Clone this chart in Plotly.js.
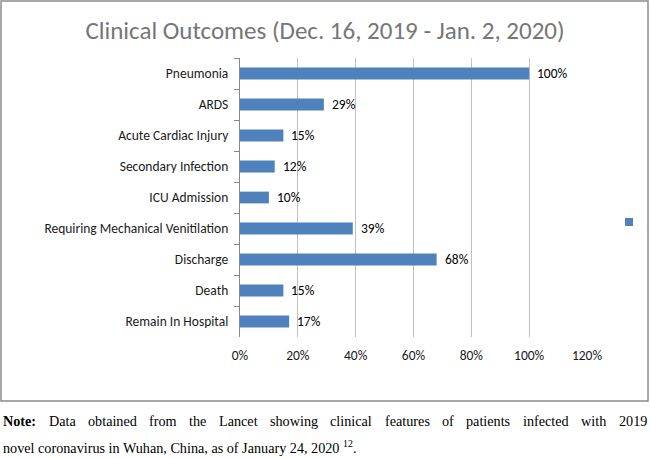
<!DOCTYPE html>
<html>
<head>
<meta charset="utf-8">
<script src="https://cdn.plot.ly/plotly-3.0.1.min.js"></script>
<style>
  html, body { margin: 0; padding: 0; background: #ffffff; }
  #chart { width: 650px; height: 458px; }
</style>
</head>
<body>
<div id="chart"></div>
<script>
// ---- data ----
const categories = [
  'Pneumonia',
  'ARDS',
  'Acute Cardiac Injury',
  'Secondary Infection',
  'ICU Admission',
  'Requiring Mechanical Venitilation',
  'Discharge',
  'Death',
  'Remain In Hospital'
];
const percentValues = [1.00, 0.29, 0.15, 0.12, 0.10, 0.39, 0.68, 0.15, 0.17];
const xTickValues = [0, 0.2, 0.4, 0.6, 0.8, 1.0, 1.2];
const titleText = 'Clinical Outcomes (Dec. 16, 2019 - Jan. 2, 2020)';
const noteLine1 = 'Note: Data obtained from the Lancet showing clinical features of patients infected with 2019';
const noteLine2 = 'novel coronavirus in Wuhan, China, as of January 24, 2020 <sup>12</sup>.';

// ---- layout helpers (pixel -> paper) ----
const W = 650, H = 458;
const M = { l: 240, r: 63, t: 58, b: 121 };
const PW = W - M.l - M.r, PH = H - M.t - M.b;
const px = x => (x - M.l) / PW;
const py = y => (H - M.b - y) / PH;

const sansFont = 'Carlito, Calibri, Lato, sans-serif';
const serifFont = '"Liberation Serif", "Times New Roman", serif';
const barColor = '#4f81bd';

const traces = [
  {
    type: 'bar',
    orientation: 'h',
    x: percentValues,
    y: categories,
    marker: { color: barColor },
    showlegend: false,
    hoverinfo: 'none'
  },
  {
    type: 'scatter',
    mode: 'markers',
    x: [null],
    y: [null],
    name: ' ',
    marker: { symbol: 'square', size: 8, color: barColor },
    showlegend: true,
    hoverinfo: 'none'
  }
];

const annotations = [];
// data labels
percentValues.forEach((v, i) => {
  annotations.push({
    x: v, y: categories[i], xref: 'x', yref: 'y',
    text: Math.round(v * 100) + '%',
    showarrow: false, xanchor: 'left', yanchor: 'middle', xshift: 6,
    font: { family: sansFont, size: 13.5, color: '#000000' }
  });
});

// note text, line 1 justified across the width
const noteSize = 14.2;
const cv = document.createElement('canvas').getContext('2d');
const words = noteLine1.split(' ');
const widths = words.map((w, i) => {
  cv.font = (i === 0 ? 'bold ' : '') + noteSize + 'px "Liberation Serif"';
  return cv.measureText(w).width;
});
const left = 2, right = 646;
const total = widths.reduce((a, b) => a + b, 0);
const gap = (right - left - total) / (words.length - 1);
let cx = left;
words.forEach((w, i) => {
  annotations.push({
    xref: 'paper', yref: 'paper', x: px(cx), y: py(421),
    text: i === 0 ? '<b>' + w + '</b>' : w,
    showarrow: false, xanchor: 'left', yanchor: 'middle',
    borderpad: 0,
    font: { family: serifFont, size: noteSize, color: '#000000' }
  });
  cx += widths[i] + gap;
});
annotations.push({
  xref: 'paper', yref: 'paper', x: px(left), y: py(447),
  text: noteLine2, showarrow: false, xanchor: 'left', yanchor: 'middle',
  borderpad: 0,
  font: { family: serifFont, size: noteSize, color: '#000000' }
});

const layout = {
  width: W, height: H,
  margin: { l: M.l, r: M.r, t: M.t, b: M.b, pad: 0, autoexpand: false },
  paper_bgcolor: '#ffffff', plot_bgcolor: '#ffffff',
  title: {
    text: titleText,
    x: 0.5, xref: 'container', xanchor: 'center',
    y: 1 - 30 / H, yref: 'container', yanchor: 'middle',
    font: { family: sansFont, size: 25, color: '#767676' }
  },
  bargap: 0.62,
  xaxis: {
    range: [0, 1.2],
    tickvals: xTickValues,
    tickformat: '.0%',
    showgrid: true, gridcolor: '#c0c0c0', gridwidth: 1.2,
    zeroline: false, showline: false, ticks: '',
    ticklabelstandoff: 8,
    tickfont: { family: sansFont, size: 13.5, color: '#1a1a1a' },
    fixedrange: true
  },
  yaxis: {
    type: 'category',
    autorange: 'reversed',
    showgrid: false, zeroline: false,
    showline: true, linecolor: '#888888', linewidth: 1,
    ticks: 'outside', tickson: 'boundaries', ticklen: 5, tickcolor: '#888888',
    ticklabelstandoff: 8,
    tickfont: { family: sansFont, size: 13.5, color: '#1a1a1a' },
    fixedrange: true
  },
  showlegend: true,
  legend: {
    xref: 'container', yref: 'container',
    x: 609 / W, y: 1 - 222 / H, xanchor: 'left', yanchor: 'middle',
    bgcolor: 'rgba(0,0,0,0)', font: { size: 10 }
  },
  shapes: [{
    type: 'rect', xref: 'paper', yref: 'paper',
    x0: px(1), x1: px(648), y0: py(401), y1: py(1),
    line: { color: '#8c8c8c', width: 1.5 }, fillcolor: 'rgba(0,0,0,0)', layer: 'below'
  }],
  annotations: annotations
};

Plotly.newPlot('chart', traces, layout, { displayModeBar: false, staticPlot: true });
</script>
</body>
</html>
